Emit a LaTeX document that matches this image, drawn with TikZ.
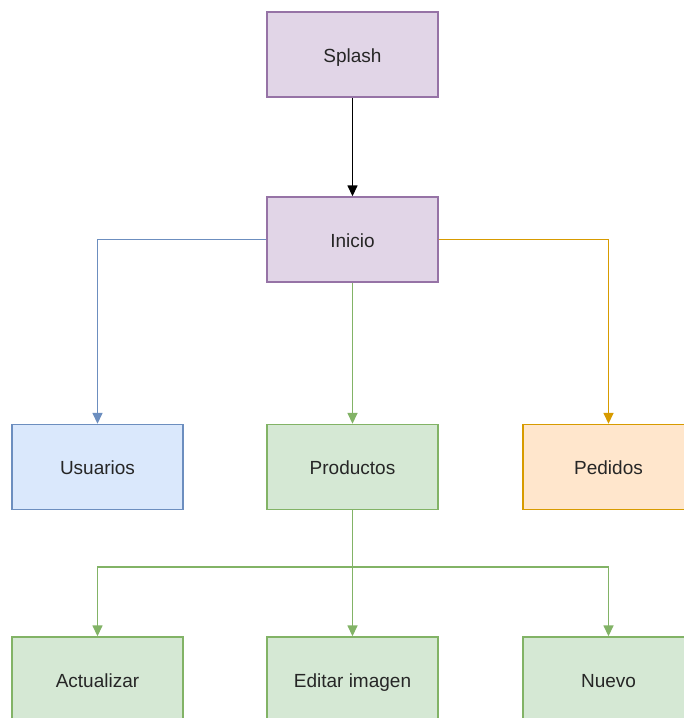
\documentclass[tikz,border=0pt]{standalone}
\usepackage{fontspec}
\setmainfont{Liberation Sans}
\usetikzlibrary{arrows.meta}
\definecolor{purpleFill}{HTML}{E1D5E7}
\definecolor{purpleLine}{HTML}{9673A6}
\definecolor{blueFill}{HTML}{DAE8FC}
\definecolor{blueLine}{HTML}{6C8EBF}
\definecolor{greenFill}{HTML}{D5E8D4}
\definecolor{greenLine}{HTML}{82B366}
\definecolor{orangeFill}{HTML}{FFE6CC}
\definecolor{orangeLine}{HTML}{D79B00}
\tikzset{
  box/.style={draw, line width=1.4pt, minimum width=171pt, minimum height=85pt,
    inner sep=0pt, text height=18pt, text depth=3pt,
    font=\fontsize{19}{22}\selectfont, text=black!85},
  purplebox/.style={box, fill=purpleFill, draw=purpleLine},
  bluebox/.style={box, fill=blueFill, draw=blueLine},
  greenbox/.style={box, fill=greenFill, draw=greenLine},
  orangebox/.style={box, fill=orangeFill, draw=orangeLine},
  link/.style={line width=1.5pt, -{Triangle[length=11pt,width=10pt]}},
}
\begin{document}
\begin{tikzpicture}[x=1pt, y=-1pt]
  \useasboundingbox[fill=white] (0,0) rectangle (684,718);
  % screens
  \node[purplebox] (splash) at (352.5,54.5) {Splash};
  \node[purplebox] (inicio) at (352.5,239.5) {Inicio};
  \node[bluebox]   (usuarios) at (97.5,467) {Usuarios};
  \node[greenbox]  (productos) at (352.5,467) {Productos};
  \node[orangebox] (pedidos) at (608.5,467) {Pedidos};
  \node[greenbox]  (actualizar) at (97.5,679.5) {Actualizar};
  \node[greenbox]  (editar) at (352.5,679.5) {Editar imagen};
  \node[greenbox]  (nuevo) at (608.5,679.5) {Nuevo};
  % navigation
  \draw[link, black] (splash) -- (inicio);
  \draw[link, blueLine] (inicio.west) -| (usuarios.north);
  \draw[link, greenLine] (inicio) -- (productos);
  \draw[link, orangeLine] (inicio.east) -| (pedidos.north);
  \coordinate (split) at (352.5,567);
  \draw[link, greenLine] (productos) -- (editar);
  \draw[link, greenLine] (split) -| (actualizar.north);
  \draw[link, greenLine] (split) -| (nuevo.north);
\end{tikzpicture}
\end{document}
